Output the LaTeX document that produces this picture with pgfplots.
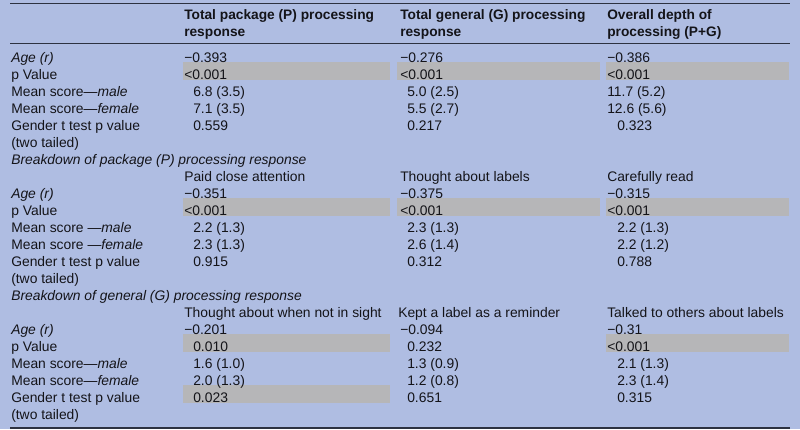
\documentclass[border=0pt]{standalone}
\usepackage{pgfplots}
\pgfplotsset{compat=1.18}
\usepackage{fontspec}
\setmainfont{Liberation Sans}
\definecolor{bgblue}{RGB}{175,189,226}
\definecolor{hlgrey}{RGB}{182,182,184}
\definecolor{rulec}{RGB}{45,50,65}
\definecolor{txt}{RGB}{20,20,25}
\newcommand{\tc}[3]{\node[anchor=base west,inner sep=0pt,text=txt,font=\fontsize{10.4}{12}\selectfont] at (axis cs:#1,{62+17*(#2)}) {#3};}
\newcommand{\hd}[3]{\node[anchor=base west,inner sep=0pt,text=txt,font=\fontsize{10.3}{12}\selectfont\bfseries] at (axis cs:#1,#2) {#3};}
\newcommand{\gb}[3]{\fill[hlgrey] (axis cs:#1,{62+17*(#3)-17}) rectangle (axis cs:#2,{62+17*(#3)+0.5});}
\begin{document}
\begin{tikzpicture}
\begin{axis}[scale only axis, width=600pt, height=321.75pt,
  xmin=0, xmax=800, ymin=0, ymax=429, y dir=reverse, hide axis, clip=false]
\fill[bgblue] (axis cs:0,0) rectangle (axis cs:800,429);
% highlighted p values
\gb{183}{390}{1}\gb{397}{600}{1}\gb{606}{789}{1}
\gb{183}{390}{9}\gb{397}{600}{9}\gb{606}{789}{9}
\gb{183}{390}{17}\gb{606}{789}{17}
\gb{183}{390}{20}
% rules
\draw[rulec, line width=1.2pt] (axis cs:10,3.5) -- (axis cs:790,3.5);
\draw[rulec, line width=0.75pt] (axis cs:10,43.5) -- (axis cs:790,43.5);
\draw[rulec, line width=1.5pt] (axis cs:10,427.8) -- (axis cs:790,427.8);
% header
\hd{184}{19.5}{Total package (P) processing}
\hd{184}{36.5}{response}
\hd{400}{19.5}{Total general (G) processing}
\hd{400}{36.5}{response}
\hd{607}{19.5}{Overall depth of}
\hd{607}{36.5}{processing (P+G)}
% section 1
\tc{11}{0}{\itshape Age (r)}
\tc{11}{1}{p Value}
\tc{11}{2}{Mean score—\itshape male}
\tc{11}{3}{Mean score—\itshape female}
\tc{11}{4}{Gender t test p value}
\tc{11}{5}{(two tailed)}
\tc{184}{0}{−0.393}\tc{184}{1}{<0.001}\tc{193}{2}{6.8 (3.5)}\tc{193}{3}{7.1 (3.5)}\tc{193}{4}{0.559}
\tc{400}{0}{−0.276}\tc{400}{1}{<0.001}\tc{407}{2}{5.0 (2.5)}\tc{407}{3}{5.5 (2.7)}\tc{407}{4}{0.217}
\tc{607}{0}{−0.386}\tc{607}{1}{<0.001}\tc{607}{2}{11.7 (5.2)}\tc{607}{3}{12.6 (5.6)}\tc{617}{4}{0.323}
% section 2
\tc{11}{6}{\itshape Breakdown of package (P) processing response}
\tc{184}{7}{Paid close attention}\tc{400}{7}{Thought about labels}\tc{607}{7}{Carefully read}
\tc{11}{8}{\itshape Age (r)}
\tc{11}{9}{p Value}
\tc{11}{10}{Mean score —\itshape male}
\tc{11}{11}{Mean score —\itshape female}
\tc{11}{12}{Gender t test p value}
\tc{11}{13}{(two tailed)}
\tc{184}{8}{−0.351}\tc{184}{9}{<0.001}\tc{193}{10}{2.2 (1.3)}\tc{193}{11}{2.3 (1.3)}\tc{193}{12}{0.915}
\tc{400}{8}{−0.375}\tc{400}{9}{<0.001}\tc{407}{10}{2.3 (1.3)}\tc{407}{11}{2.6 (1.4)}\tc{407}{12}{0.312}
\tc{607}{8}{−0.315}\tc{607}{9}{<0.001}\tc{617}{10}{2.2 (1.3)}\tc{617}{11}{2.2 (1.2)}\tc{617}{12}{0.788}
% section 3
\tc{11}{14}{\itshape Breakdown of general (G) processing response}
\tc{184}{15}{Thought about when not in sight}\tc{398}{15}{Kept a label as a reminder}\tc{607}{15}{Talked to others about labels}
\tc{11}{16}{\itshape Age (r)}
\tc{11}{17}{p Value}
\tc{11}{18}{Mean score—\itshape male}
\tc{11}{19}{Mean score—\itshape female}
\tc{11}{20}{Gender t test p value}
\tc{11}{21}{(two tailed)}
\tc{184}{16}{−0.201}\tc{193}{17}{0.010}\tc{193}{18}{1.6 (1.0)}\tc{193}{19}{2.0 (1.3)}\tc{193}{20}{0.023}
\tc{400}{16}{−0.094}\tc{407}{17}{0.232}\tc{407}{18}{1.3 (0.9)}\tc{407}{19}{1.2 (0.8)}\tc{407}{20}{0.651}
\tc{607}{16}{−0.31}\tc{607}{17}{<0.001}\tc{617}{18}{2.1 (1.3)}\tc{617}{19}{2.3 (1.4)}\tc{617}{20}{0.315}
\end{axis}
\end{tikzpicture}
\end{document}
